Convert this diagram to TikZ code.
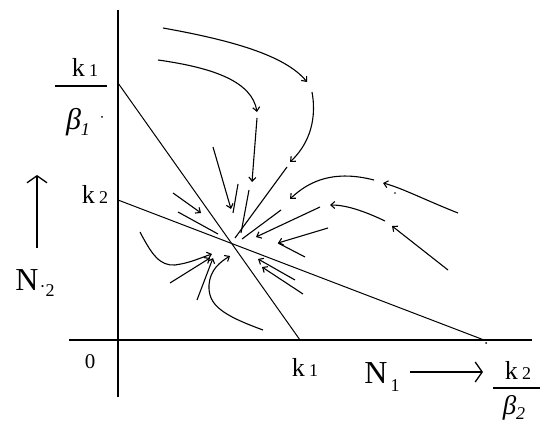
\documentclass[tikz,border=0pt]{standalone}
\usepackage{fontspec}
\setmainfont{Liberation Serif}
\usetikzlibrary{arrows.meta}
\newcommand{\digs}{\fontsize{18}{18}\selectfont}

\begin{document}
\begin{tikzpicture}[x=1pt,y=-1pt,>={Straight Barb[length=4pt,width=7pt]},
  ax/.style={line width=1.8pt},
  iso/.style={line width=1pt},
  tr/.style={line width=1.1pt},
  a/.style={tr,->},
  big/.style={->,line width=1.3pt,>={Straight Barb[length=7pt,width=20pt]}},
  lb/.style={font=\fontsize{26}{26}\selectfont,inner sep=0pt},
  gr/.style={font=\fontsize{30}{30}\selectfont,inner sep=0pt},
  nl/.style={font=\fontsize{32}{32}\selectfont,inner sep=0pt}]
  \useasboundingbox (0,0) rectangle (540,427);
  % axes
  \coordinate (O) at (118,340);
  \coordinate (ytop) at (118,10);
  \coordinate (ybot) at (118,397);
  \coordinate (xl) at (69,340);
  \coordinate (xr) at (532,340);
  \draw[ax] (ybot) -- (ytop);
  \draw[ax] (xl) -- (xr);
  % isoclines
  \coordinate (k1b1) at (118,83);
  \coordinate (k1x) at (300,340);
  \coordinate (k2y) at (118,200);
  \coordinate (k2b2) at (484,340);
  \draw[iso] (k1b1) -- (k1x);
  \draw[iso] (k2y) -- (k2b2);
  % labels
  \node[lb] (k1top) at (85,67) {k\,\digs 1};
  \coordinate (barl) at (55,86); \coordinate (barr) at (107,86);
  \draw[line width=1.5pt] (barl) -- (barr);
  \node[gr] (beta1) at (78,122) {\itshape β\raisebox{-6pt}{\digs 1}};
  \fill (102,117) circle (1pt);
  \node[lb] (k2left) at (95,194) {k\,\digs 2};
  \coordinate (upb) at (37,248); \coordinate (upt) at (37,175);
  \draw[big] (upb) -- (upt);
  \node[nl] (n2) at (35,283) {N\raisebox{-2pt}{\digs\kern1pt·}\raisebox{-6pt}{\digs 2}};
  \node[lb,font=\fontsize{21}{21}\selectfont] (zero) at (90,362) {0};
  \node[lb] (k1bot) at (305,367) {k\,\digs 1};
  \node[nl] (n1) at (382,377) {N\kern3pt\raisebox{-8pt}{\digs 1}};
  \coordinate (arl) at (410,372); \coordinate (arr) at (483,372);
  \draw[big] (arl) -- (arr);
  \node[lb] (k2bot) at (518,370) {k\,\digs 2};
  \coordinate (bar2l) at (493,388); \coordinate (bar2r) at (540,388);
  \draw[line width=1.5pt] (bar2l) -- (bar2r);
  \node[gr,font=\fontsize{27}{27}\selectfont] (beta2) at (514,408) {\itshape β\raisebox{-5pt}{\digs 2}};
  \fill (486,343) circle (1pt);
  \fill (395,193) circle (0.8pt);
  % trajectories from above
  \draw[a] (163,28) .. controls (230,40) and (285,55) .. (307,82);
  \draw[a] (312,92) .. controls (318,125) and (305,148) .. (290,162);
  \draw[tr] (287,167) -- (235,238);
  \draw[a] (158,60) .. controls (215,68) and (252,82) .. (257,112);
  \draw[a] (257,118) -- (252,182);
  \draw[tr] (249,190) -- (241,233);
  \draw[a] (213,147) -- (231,209);
  \draw[tr] (238,184) -- (233,213);
  \draw[a] (173,193) -- (201,213);
  \draw[tr] (178,212) -- (218,234);
  % trajectories from below left
  \draw[a] (140,232) .. controls (152,255) and (160,266) .. (175,265) .. controls (190,263) and (200,258) .. (212,254);
  \draw[a] (170,283) -- (210,258);
  \draw[a] (197,300) -- (213,258);
  \draw[a] (263,330) .. controls (222,315) and (208,305) .. (209,285) .. controls (210,270) and (220,262) .. (230,256);
  % trajectories from the right
  \draw[a] (458,213) .. controls (425,200) and (402,188) .. (383,183);
  \draw[a] (374,180) .. controls (335,170) and (310,180) .. (290,199);
  \draw[tr] (281,210) -- (242,239);
  \draw[a] (448,270) -- (392,226);
  \draw[a] (385,221) .. controls (362,210) and (345,205) .. (330,205);
  \draw[a] (320,207) -- (256,237);
  \draw[a] (328,228) -- (278,243);
  \draw[tr] (305,257) -- (278,243);
  \draw[a] (295,280) -- (258,259);
  \draw[a] (303,294) -- (262,267);
\end{tikzpicture}
\end{document}
